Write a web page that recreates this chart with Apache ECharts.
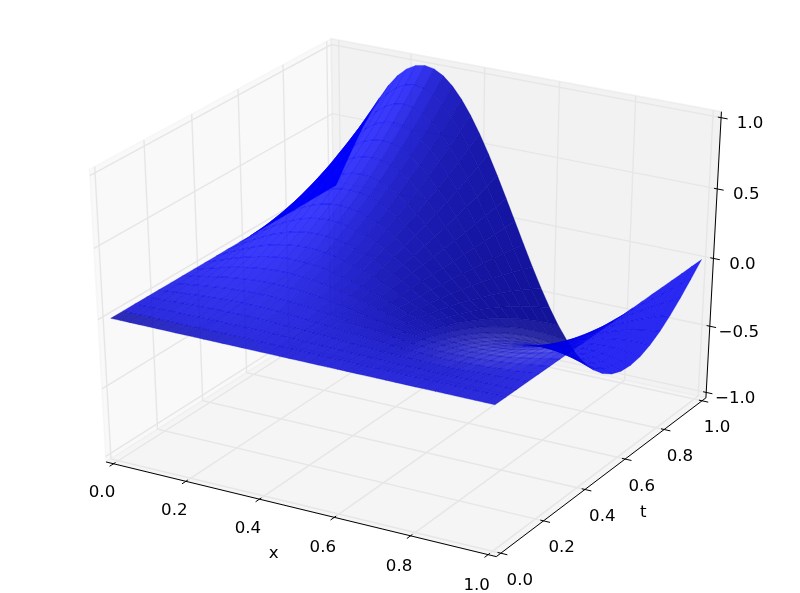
<!DOCTYPE html>
<html><head><meta charset="utf-8"><style>html,body{margin:0;padding:0;background:#fff}#c{width:800px;height:593px}</style>
<script src="https://cdn.jsdelivr.net/npm/echarts@6/dist/echarts.min.js"></script></head><body><div id="c"></div>
<script>
const xValues=[0,.025,.05,.075,.1,.125,.15,.175,.2,.225,.25,.275,.3,.325,.35,.375,.4,.425,.45,.475,.5,.525,.55,.575,.6,.625,.65,.675,.7,.725,.75,.775,.8,.825,.85,.875,.9,.925,.95,.975,1];
const tValues=[0,.05,.1,.15,.2,.25,.3,.35,.4,.45,.5,.55,.6,.65,.7,.75,.8,.85,.9,.95,1];
const uRows=[
[0,0,0,0,0,0,0,0,0,0,0,0,0,0,0,0,0,0,0,0,0,0,0,0,0,0,0,0,0,0,0,0,0,0,0,0,0,0,0,0,0],
[0,0,.001,.001,.001,.002,.002,.002,.002,.002,.003,.002,.002,.002,.002,.002,.001,.001,.001,0,0,0,-.001,-.001,-.001,-.002,-.002,-.002,-.002,-.002,-.003,-.002,-.002,-.002,-.002,-.002,-.001,-.001,-.001,0,0],
[0,.002,.003,.005,.006,.007,.008,.009,.01,.01,.01,.01,.01,.009,.008,.007,.006,.005,.003,.002,0,-.002,-.003,-.005,-.006,-.007,-.008,-.009,-.01,-.01,-.01,-.01,-.01,-.009,-.008,-.007,-.006,-.005,-.003,-.002,0],
[0,.004,.007,.01,.013,.016,.018,.02,.021,.022,.023,.022,.021,.02,.018,.016,.013,.01,.007,.004,0,-.004,-.007,-.01,-.013,-.016,-.018,-.02,-.021,-.022,-.023,-.022,-.021,-.02,-.018,-.016,-.013,-.01,-.007,-.004,0],
[0,.006,.012,.018,.024,.028,.032,.036,.038,.04,.04,.04,.038,.036,.032,.028,.024,.018,.012,.006,0,-.006,-.012,-.018,-.024,-.028,-.032,-.036,-.038,-.04,-.04,-.04,-.038,-.036,-.032,-.028,-.024,-.018,-.012,-.006,0],
[0,.01,.019,.028,.037,.044,.051,.056,.059,.062,.063,.062,.059,.056,.051,.044,.037,.028,.019,.01,0,-.01,-.019,-.028,-.037,-.044,-.051,-.056,-.059,-.062,-.063,-.062,-.059,-.056,-.051,-.044,-.037,-.028,-.019,-.01,0],
[0,.014,.028,.041,.053,.064,.073,.08,.086,.089,.09,.089,.086,.08,.073,.064,.053,.041,.028,.014,0,-.014,-.028,-.041,-.053,-.064,-.073,-.08,-.086,-.089,-.09,-.089,-.086,-.08,-.073,-.064,-.053,-.041,-.028,-.014,0],
[0,.019,.038,.056,.072,.087,.099,.109,.116,.121,.123,.121,.116,.109,.099,.087,.072,.056,.038,.019,0,-.019,-.038,-.056,-.072,-.087,-.099,-.109,-.116,-.121,-.123,-.121,-.116,-.109,-.099,-.087,-.072,-.056,-.038,-.019,0],
[0,.025,.049,.073,.094,.113,.129,.143,.152,.158,.16,.158,.152,.143,.129,.113,.094,.073,.049,.025,0,-.025,-.049,-.073,-.094,-.113,-.129,-.143,-.152,-.158,-.16,-.158,-.152,-.143,-.129,-.113,-.094,-.073,-.049,-.025,0],
[0,.032,.063,.092,.119,.143,.164,.18,.193,.2,.203,.2,.193,.18,.164,.143,.119,.092,.063,.032,0,-.032,-.063,-.092,-.119,-.143,-.164,-.18,-.193,-.2,-.203,-.2,-.193,-.18,-.164,-.143,-.119,-.092,-.063,-.032,0],
[0,.039,.077,.114,.147,.177,.202,.223,.238,.247,.25,.247,.238,.223,.202,.177,.147,.114,.077,.039,0,-.039,-.077,-.114,-.147,-.177,-.202,-.223,-.238,-.247,-.25,-.247,-.238,-.223,-.202,-.177,-.147,-.114,-.077,-.039,0],
[0,.047,.093,.137,.178,.214,.245,.27,.288,.299,.303,.299,.288,.27,.245,.214,.178,.137,.093,.047,0,-.047,-.093,-.137,-.178,-.214,-.245,-.27,-.288,-.299,-.303,-.299,-.288,-.27,-.245,-.214,-.178,-.137,-.093,-.047,0],
[0,.056,.111,.163,.212,.255,.291,.321,.342,.356,.36,.356,.342,.321,.291,.255,.212,.163,.111,.056,0,-.056,-.111,-.163,-.212,-.255,-.291,-.321,-.342,-.356,-.36,-.356,-.342,-.321,-.291,-.255,-.212,-.163,-.111,-.056,0],
[0,.066,.131,.192,.248,.299,.342,.376,.402,.417,.423,.417,.402,.376,.342,.299,.248,.192,.131,.066,0,-.066,-.131,-.192,-.248,-.299,-.342,-.376,-.402,-.417,-.423,-.417,-.402,-.376,-.342,-.299,-.248,-.192,-.131,-.066,0],
[0,.076,.151,.222,.288,.346,.396,.437,.466,.484,.49,.484,.466,.437,.396,.346,.288,.222,.151,.076,0,-.076,-.151,-.222,-.288,-.346,-.396,-.437,-.466,-.484,-.49,-.484,-.466,-.437,-.396,-.346,-.288,-.222,-.151,-.076,0],
[0,.088,.174,.255,.331,.398,.455,.501,.535,.556,.563,.556,.535,.501,.455,.398,.331,.255,.174,.088,0,-.088,-.174,-.255,-.331,-.398,-.455,-.501,-.535,-.556,-.563,-.556,-.535,-.501,-.455,-.398,-.331,-.255,-.174,-.088,0],
[0,.1,.198,.291,.376,.452,.518,.57,.609,.632,.64,.632,.609,.57,.518,.452,.376,.291,.198,.1,0,-.1,-.198,-.291,-.376,-.452,-.518,-.57,-.609,-.632,-.64,-.632,-.609,-.57,-.518,-.452,-.376,-.291,-.198,-.1,0],
[0,.113,.223,.328,.425,.511,.584,.644,.687,.714,.723,.714,.687,.644,.584,.511,.425,.328,.223,.113,0,-.113,-.223,-.328,-.425,-.511,-.584,-.644,-.687,-.714,-.723,-.714,-.687,-.644,-.584,-.511,-.425,-.328,-.223,-.113,0],
[0,.126,.25,.368,.476,.573,.655,.722,.77,.8,.81,.8,.77,.722,.655,.573,.476,.368,.25,.126,0,-.126,-.25,-.368,-.476,-.573,-.655,-.722,-.77,-.8,-.81,-.8,-.77,-.722,-.655,-.573,-.476,-.368,-.25,-.126,0],
[0,.141,.279,.41,.531,.638,.73,.804,.858,.892,.903,.892,.858,.804,.73,.638,.531,.41,.279,.141,0,-.141,-.279,-.41,-.531,-.638,-.73,-.804,-.858,-.892,-.903,-.892,-.858,-.804,-.73,-.638,-.531,-.41,-.279,-.141,0],
[0,.156,.309,.454,.588,.707,.809,.891,.951,.988,1,.988,.951,.891,.809,.707,.588,.454,.309,.156,0,-.156,-.309,-.454,-.588,-.707,-.809,-.891,-.951,-.988,-1,-.988,-.951,-.891,-.809,-.707,-.588,-.454,-.309,-.156,0]
];
const xTicks=[0,.2,.4,.6,.8,1];
const tTicks=[0,.2,.4,.6,.8,1];
const zTicks=[-1,-.5,0,.5,1];
const fmt=v=>(v<0?'\u2212':'')+Math.abs(v).toFixed(1);

// mplot3d view: elevation 30, azimuth -60, distance 10
const el=30*Math.PI/180,az=-60*Math.PI/180,dist=10;
const n=[Math.cos(az)*Math.cos(el),Math.sin(az)*Math.cos(el),Math.sin(el)];
const cross=(a,b)=>[a[1]*b[2]-a[2]*b[1],a[2]*b[0]-a[0]*b[2],a[0]*b[1]-a[1]*b[0]];
const unit=a=>{const m=Math.hypot(a[0],a[1],a[2]);return a.map(v=>v/m)};
const dot=(a,b)=>a[0]*b[0]+a[1]*b[1]+a[2]*b[2];
const u=unit(cross([0,0,1],n)),v=cross(n,u);
function proj(x,t,z){
  const p=[x-.5,t-.5,(z+1)/2-.5];
  const zv=dot(n,p)-dist;
  return [dot(u,p)/-zv,dot(v,p)/-zv,zv];
}
const e=1/48,x0=-e,x1=1+e,t0=-e,t1=1+e,z0=-1-2*e,z1=1+2*e;

// surface cells
const cells=[];
let shMin=1e9,shMax=-1e9;
for(let j=0;j<tValues.length-1;j++)for(let i=0;i<xValues.length-1;i++){
  const c=[[i,j],[i+1,j],[i+1,j+1],[i,j+1]].map(([a,b])=>[xValues[a],tValues[b],uRows[b][a]]);
  const d1=[c[2][0]-c[0][0],c[2][1]-c[0][1],c[2][2]-c[0][2]];
  const d2=[c[3][0]-c[1][0],c[3][1]-c[1][1],c[3][2]-c[1][2]];
  const nr=unit(cross(d1,d2));
  const sh=-nr[0]-nr[1]+.5*nr[2];
  shMin=Math.min(sh,shMin);shMax=Math.max(sh,shMax);
  const pts=c.map(q=>proj(q[0],q[1],q[2]));
  const depth=pts.reduce((s,q)=>s+q[2],0)/4;
  const f=dot(unit([nr[0],nr[1],nr[2]*2]),n);
  cells.push({pts,depth,sh,f,x:c[0][0],t:c[0][1]});
}
cells.sort((a,b)=>a.depth-b.depth);
cells.forEach(c=>{
  const k=(c.sh-shMin)/(shMax-shMin);
  let B=255*(.56+.44*k),m;
  if(c.f>0){
    const gray=c.x>.4?Math.max(0,Math.min(.17,.17*(.4-c.f)/.2)):0;
    m=.07+.17*k+gray;
    if(c.t<.05&&c.x<.4)B*=1-.2*(1-c.x/.4);
  }else{
    m=c.x<.3?0:.17; B=Math.max(B,240);
  }
  c.color=`rgba(0,0,${Math.round(B)},${(1-m).toFixed(3)})`;
});

// panes, grid, axes
const P=(a,b,c)=>{const q=proj(a,b,c);return [q[0],q[1]]};
const panes=[
 {c:'rgba(242,242,242,.5)',p:[P(x0,t0,z0),P(x0,t1,z0),P(x0,t1,z1),P(x0,t0,z1)],f:'#f9f9f9'},
 {c:'rgba(230,230,230,.5)',p:[P(x0,t1,z0),P(x1,t1,z0),P(x1,t1,z1),P(x0,t1,z1)],f:'#f2f2f2'},
 {c:'rgba(236,236,236,.5)',p:[P(x0,t0,z0),P(x1,t0,z0),P(x1,t1,z0),P(x0,t1,z0)],f:'#f5f5f5'}
];
const gridLines=[];
xTicks.forEach(x=>gridLines.push([P(x,t0,z0),P(x,t1,z0),P(x,t1,z1)]));
tTicks.forEach(t=>gridLines.push([P(x0,t,z1),P(x0,t,z0),P(x1,t,z0)]));
zTicks.forEach(z=>gridLines.push([P(x0,t0,z),P(x0,t1,z),P(x1,t1,z)]));
const axisLines=[[P(x0,t0,z0),P(x1,t0,z0)],[P(x1,t0,z0),P(x1,t1,z0)],[P(x1,t1,z0),P(x1,t1,z1)]];
const out=.2/12,inn=.1/12;
xTicks.forEach(x=>axisLines.push([P(x,t0-out,z0),P(x,t0+inn,z0)]));
tTicks.forEach(t=>axisLines.push([P(x1+out,t,z0),P(x1-inn,t,z0)]));
zTicks.forEach(z=>axisLines.push([P(x1+out,t1,z),P(x1-inn,t1,z)]));
const labels=[];
xTicks.forEach(x=>labels.push({s:fmt(x),p:P(x,t0,z0),d:[-11.5,29+2*x]}));
tTicks.forEach(t=>labels.push({s:fmt(t),p:P(x1,t,z0),d:[19-4*t,27.3]}));
zTicks.forEach(z=>labels.push({s:fmt(z),p:P(x1,t1,z),d:[29,6]}));
labels.push({s:'x',p:P(.5,t0,z0),d:[-23,45]});
labels.push({s:'t',p:P(x1,.5,z0),d:[38,39]});

const poly=(list,style)=>({type:'custom',coordinateSystem:'cartesian2d',silent:true,clip:false,progressive:0,animation:false,
  data:list.map((_,i)=>[i,0]),encode:{x:0,y:1},
  renderItem:(params,api)=>style(list[params.dataIndex],api)});
const option={animation:false,
 grid:{left:0,top:0,width:800,height:593,show:false},
 xAxis:{type:'value',min:-.095,max:.09,show:false},
 yAxis:{type:'value',min:-.095,max:.09,show:false},
 series:[
  poly(panes,(d,api)=>({type:'polygon',shape:{points:d.p.map(q=>api.coord(q))},style:{fill:d.f,stroke:d.c,lineWidth:1.5}})),
  poly(gridLines,(d,api)=>({type:'polyline',shape:{points:d.map(q=>api.coord(q))},style:{fill:null,stroke:'#e6e6e6',lineWidth:1.4}})),
  poly(cells,(d,api)=>({type:'polygon',shape:{points:d.pts.map(q=>api.coord([q[0],q[1]]))},style:{fill:d.color,stroke:d.color,lineWidth:.35}})),
  poly(axisLines,(d,api)=>({type:'polyline',shape:{points:d.map(q=>api.coord(q))},style:{fill:null,stroke:'#000',lineWidth:1}})),
  poly(labels,(d,api)=>{const c=api.coord(d.p);return {type:'text',style:{text:d.s,x:c[0]+d.d[0],y:c[1]+d.d[1],textAlign:'center',textVerticalAlign:'middle',font:'16.67px "DejaVu Sans"',fill:'#000'}}})
 ]};
echarts.init(document.getElementById('c'),null,{renderer:'canvas'}).setOption(option);
</script></body></html>
